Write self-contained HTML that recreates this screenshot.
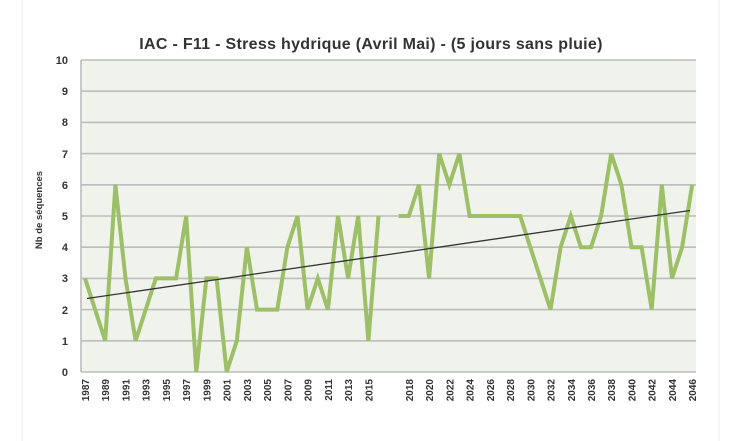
<!DOCTYPE html>
<html><head><meta charset="utf-8"><style>
body{margin:0;background:#fff;}
svg{display:block;font-family:"Liberation Sans",sans-serif;}
</style></head><body>
<svg width="737" height="441" viewBox="0 0 737 441">
<rect width="737" height="441" fill="#fff"/>
<line x1="22" y1="0" x2="22" y2="441" stroke="#eee" stroke-width="1"/>
<line x1="719" y1="0" x2="719" y2="441" stroke="#eee" stroke-width="1"/>
<text x="371" y="49" text-anchor="middle" font-size="16" font-weight="bold" fill="#333" letter-spacing="0.3">IAC - F11 - Stress hydrique (Avril Mai) - (5 jours sans pluie)</text>
<rect x="81" y="60" width="615" height="312" fill="#f0f3ec"/>
<g stroke="#bdbdbd" stroke-width="1.6">
<line x1="81" y1="60" x2="696" y2="60"/><line x1="81" y1="91.2" x2="696" y2="91.2"/><line x1="81" y1="122.4" x2="696" y2="122.4"/><line x1="81" y1="153.6" x2="696" y2="153.6"/><line x1="81" y1="184.8" x2="696" y2="184.8"/><line x1="81" y1="216" x2="696" y2="216"/><line x1="81" y1="247.2" x2="696" y2="247.2"/><line x1="81" y1="278.4" x2="696" y2="278.4"/><line x1="81" y1="309.6" x2="696" y2="309.6"/><line x1="81" y1="340.8" x2="696" y2="340.8"/><line x1="81" y1="372" x2="696" y2="372"/>
<line x1="81" y1="60" x2="81" y2="372"/>
</g>
<g font-size="11" font-weight="bold" fill="#333" text-anchor="end">
<text x="68" y="64">10</text><text x="68" y="95">9</text><text x="68" y="126">8</text><text x="68" y="158">7</text><text x="68" y="189">6</text><text x="68" y="220">5</text><text x="68" y="251">4</text><text x="68" y="282">3</text><text x="68" y="314">2</text><text x="68" y="345">1</text><text x="68" y="376">0</text>
</g>
<text transform="translate(42,210) rotate(-90)" text-anchor="middle" font-size="9.5" font-weight="bold" fill="#333">Nb de séquences</text>
<g fill="none" stroke="#9dbf68" stroke-width="4" stroke-linejoin="miter">
<polyline points="85,278.4 95.1,309.6 105.2,340.8 115.4,184.8 125.5,278.4 135.6,340.8 145.7,309.6 155.8,278.4 166,278.4 176.1,278.4 186.2,216 196.3,372 206.4,278.4 216.6,278.4 226.7,372 236.8,340.8 246.9,247.2 257,309.6 267.2,309.6 277.3,309.6 287.4,247.2 297.5,216 307.6,309.6 317.8,278.4 327.9,309.6 338,216 348.1,278.4 358.2,216 368.4,340.8 378.5,216"/>
<polyline points="398.7,216 408.8,216 419,184.8 429.1,278.4 439.2,153.6 449.3,184.8 459.4,153.6 469.6,216 479.7,216 489.8,216 499.9,216 510,216 520.2,216 530.3,247.2 540.4,278.4 550.5,309.6 560.6,247.2 570.8,216 580.9,247.2 591,247.2 601.1,216 611.2,153.6 621.4,184.8 631.5,247.2 641.6,247.2 651.7,309.6 661.8,184.8 672,278.4 682.1,247.2 692.2,184.8"/>
</g>
<line x1="87" y1="298.5" x2="690" y2="210.5" stroke="#333" stroke-width="1.3"/>
<g font-size="10" font-weight="bold" fill="#333" text-anchor="end">
<text transform="translate(89,379) rotate(-90)">1987</text>
<text transform="translate(109.2,379) rotate(-90)">1989</text>
<text transform="translate(129.5,379) rotate(-90)">1991</text>
<text transform="translate(149.7,379) rotate(-90)">1993</text>
<text transform="translate(170,379) rotate(-90)">1995</text>
<text transform="translate(190.2,379) rotate(-90)">1997</text>
<text transform="translate(210.4,379) rotate(-90)">1999</text>
<text transform="translate(230.7,379) rotate(-90)">2001</text>
<text transform="translate(250.9,379) rotate(-90)">2003</text>
<text transform="translate(271.2,379) rotate(-90)">2005</text>
<text transform="translate(291.4,379) rotate(-90)">2007</text>
<text transform="translate(311.6,379) rotate(-90)">2009</text>
<text transform="translate(331.9,379) rotate(-90)">2011</text>
<text transform="translate(352.1,379) rotate(-90)">2013</text>
<text transform="translate(372.4,379) rotate(-90)">2015</text>
<text transform="translate(412.8,379) rotate(-90)">2018</text>
<text transform="translate(433.1,379) rotate(-90)">2020</text>
<text transform="translate(453.3,379) rotate(-90)">2022</text>
<text transform="translate(473.6,379) rotate(-90)">2024</text>
<text transform="translate(493.8,379) rotate(-90)">2026</text>
<text transform="translate(514,379) rotate(-90)">2028</text>
<text transform="translate(534.3,379) rotate(-90)">2030</text>
<text transform="translate(554.5,379) rotate(-90)">2032</text>
<text transform="translate(574.8,379) rotate(-90)">2034</text>
<text transform="translate(595,379) rotate(-90)">2036</text>
<text transform="translate(615.2,379) rotate(-90)">2038</text>
<text transform="translate(635.5,379) rotate(-90)">2040</text>
<text transform="translate(655.7,379) rotate(-90)">2042</text>
<text transform="translate(676,379) rotate(-90)">2044</text>
<text transform="translate(696.2,379) rotate(-90)">2046</text>
</g>
</svg>
</body></html>
